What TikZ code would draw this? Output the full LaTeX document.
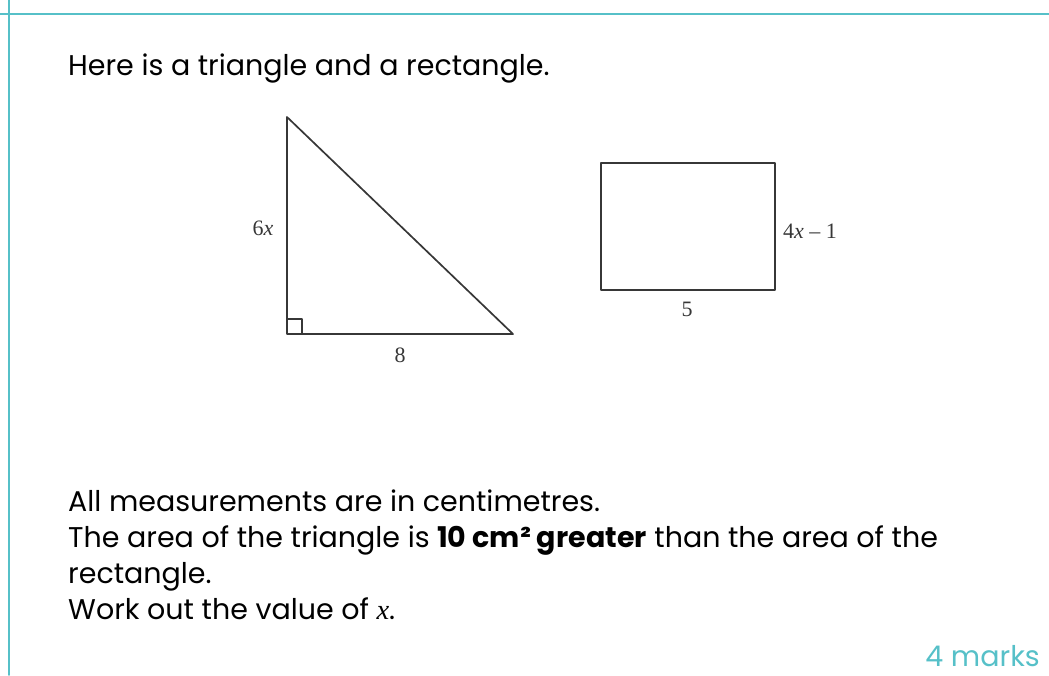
\documentclass[tikz,border=0pt]{standalone}
\usepackage{fontspec}
\setmainfont{Poppins}
\newfontfamily\labelfont{Liberation Serif}
\definecolor{rulecol}{RGB}{86,192,200}
\definecolor{edgecol}{RGB}{55,55,55}
\tikzset{
  edge/.style={draw=edgecol,line width=1.7pt},
  size label/.style={font=\labelfont\fontsize{22}{25}\selectfont,text=edgecol},
  body text/.style={anchor=base west,inner sep=0pt},
}
\begin{document}
\begin{tikzpicture}[x=1pt,y=-1pt,line join=round,line cap=round,font=\fontsize{28.5}{34}\selectfont]
  \useasboundingbox (0,0) rectangle (1049,675);
  % margin rules
  \draw[rulecol,line width=1.6pt] (0,14) -- (1049,14);
  \draw[rulecol,line width=1.6pt] (9,0) -- (9,675);
  \node[body text] (intro) at (68,75) {Here is a triangle and a rectangle.};
  % triangle
  \coordinate (top) at (287,117);
  \coordinate (corner) at (287,334);
  \coordinate (tip) at (513,334);
  \draw[edge] (top) -- (corner) -- (tip) -- cycle;
  \draw[edge] ([yshift=15pt]corner) -| ([xshift=15pt]corner);
  \node[size label] (height) at (263,228) {6\textit{x}};
  \node[size label] (base) at (400,355) {8};
  % rectangle
  \coordinate (rectnw) at (601,163);
  \coordinate (rectse) at (775,290);
  \draw[edge] (rectnw) rectangle (rectse);
  \node[size label] (side) at (810,231) {4\textit{x} – 1};
  \node[size label] (width) at (687,309) {5};
  % question text
  \node[body text] (line1) at (68,511) {All measurements are in centimetres.};
  \node[body text] (line2) at (68,547) {The area of the triangle is \textbf{10 cm² greater} than the area of the};
  \node[body text] (line3) at (68,583) {rectangle.};
  \node[body text] (line4) at (68,619) {Work out the value of {\labelfont\itshape x}.};
  \node[anchor=base east,inner sep=0pt,text=rulecol] (marks) at (1040,666) {4 marks};
\end{tikzpicture}
\end{document}
